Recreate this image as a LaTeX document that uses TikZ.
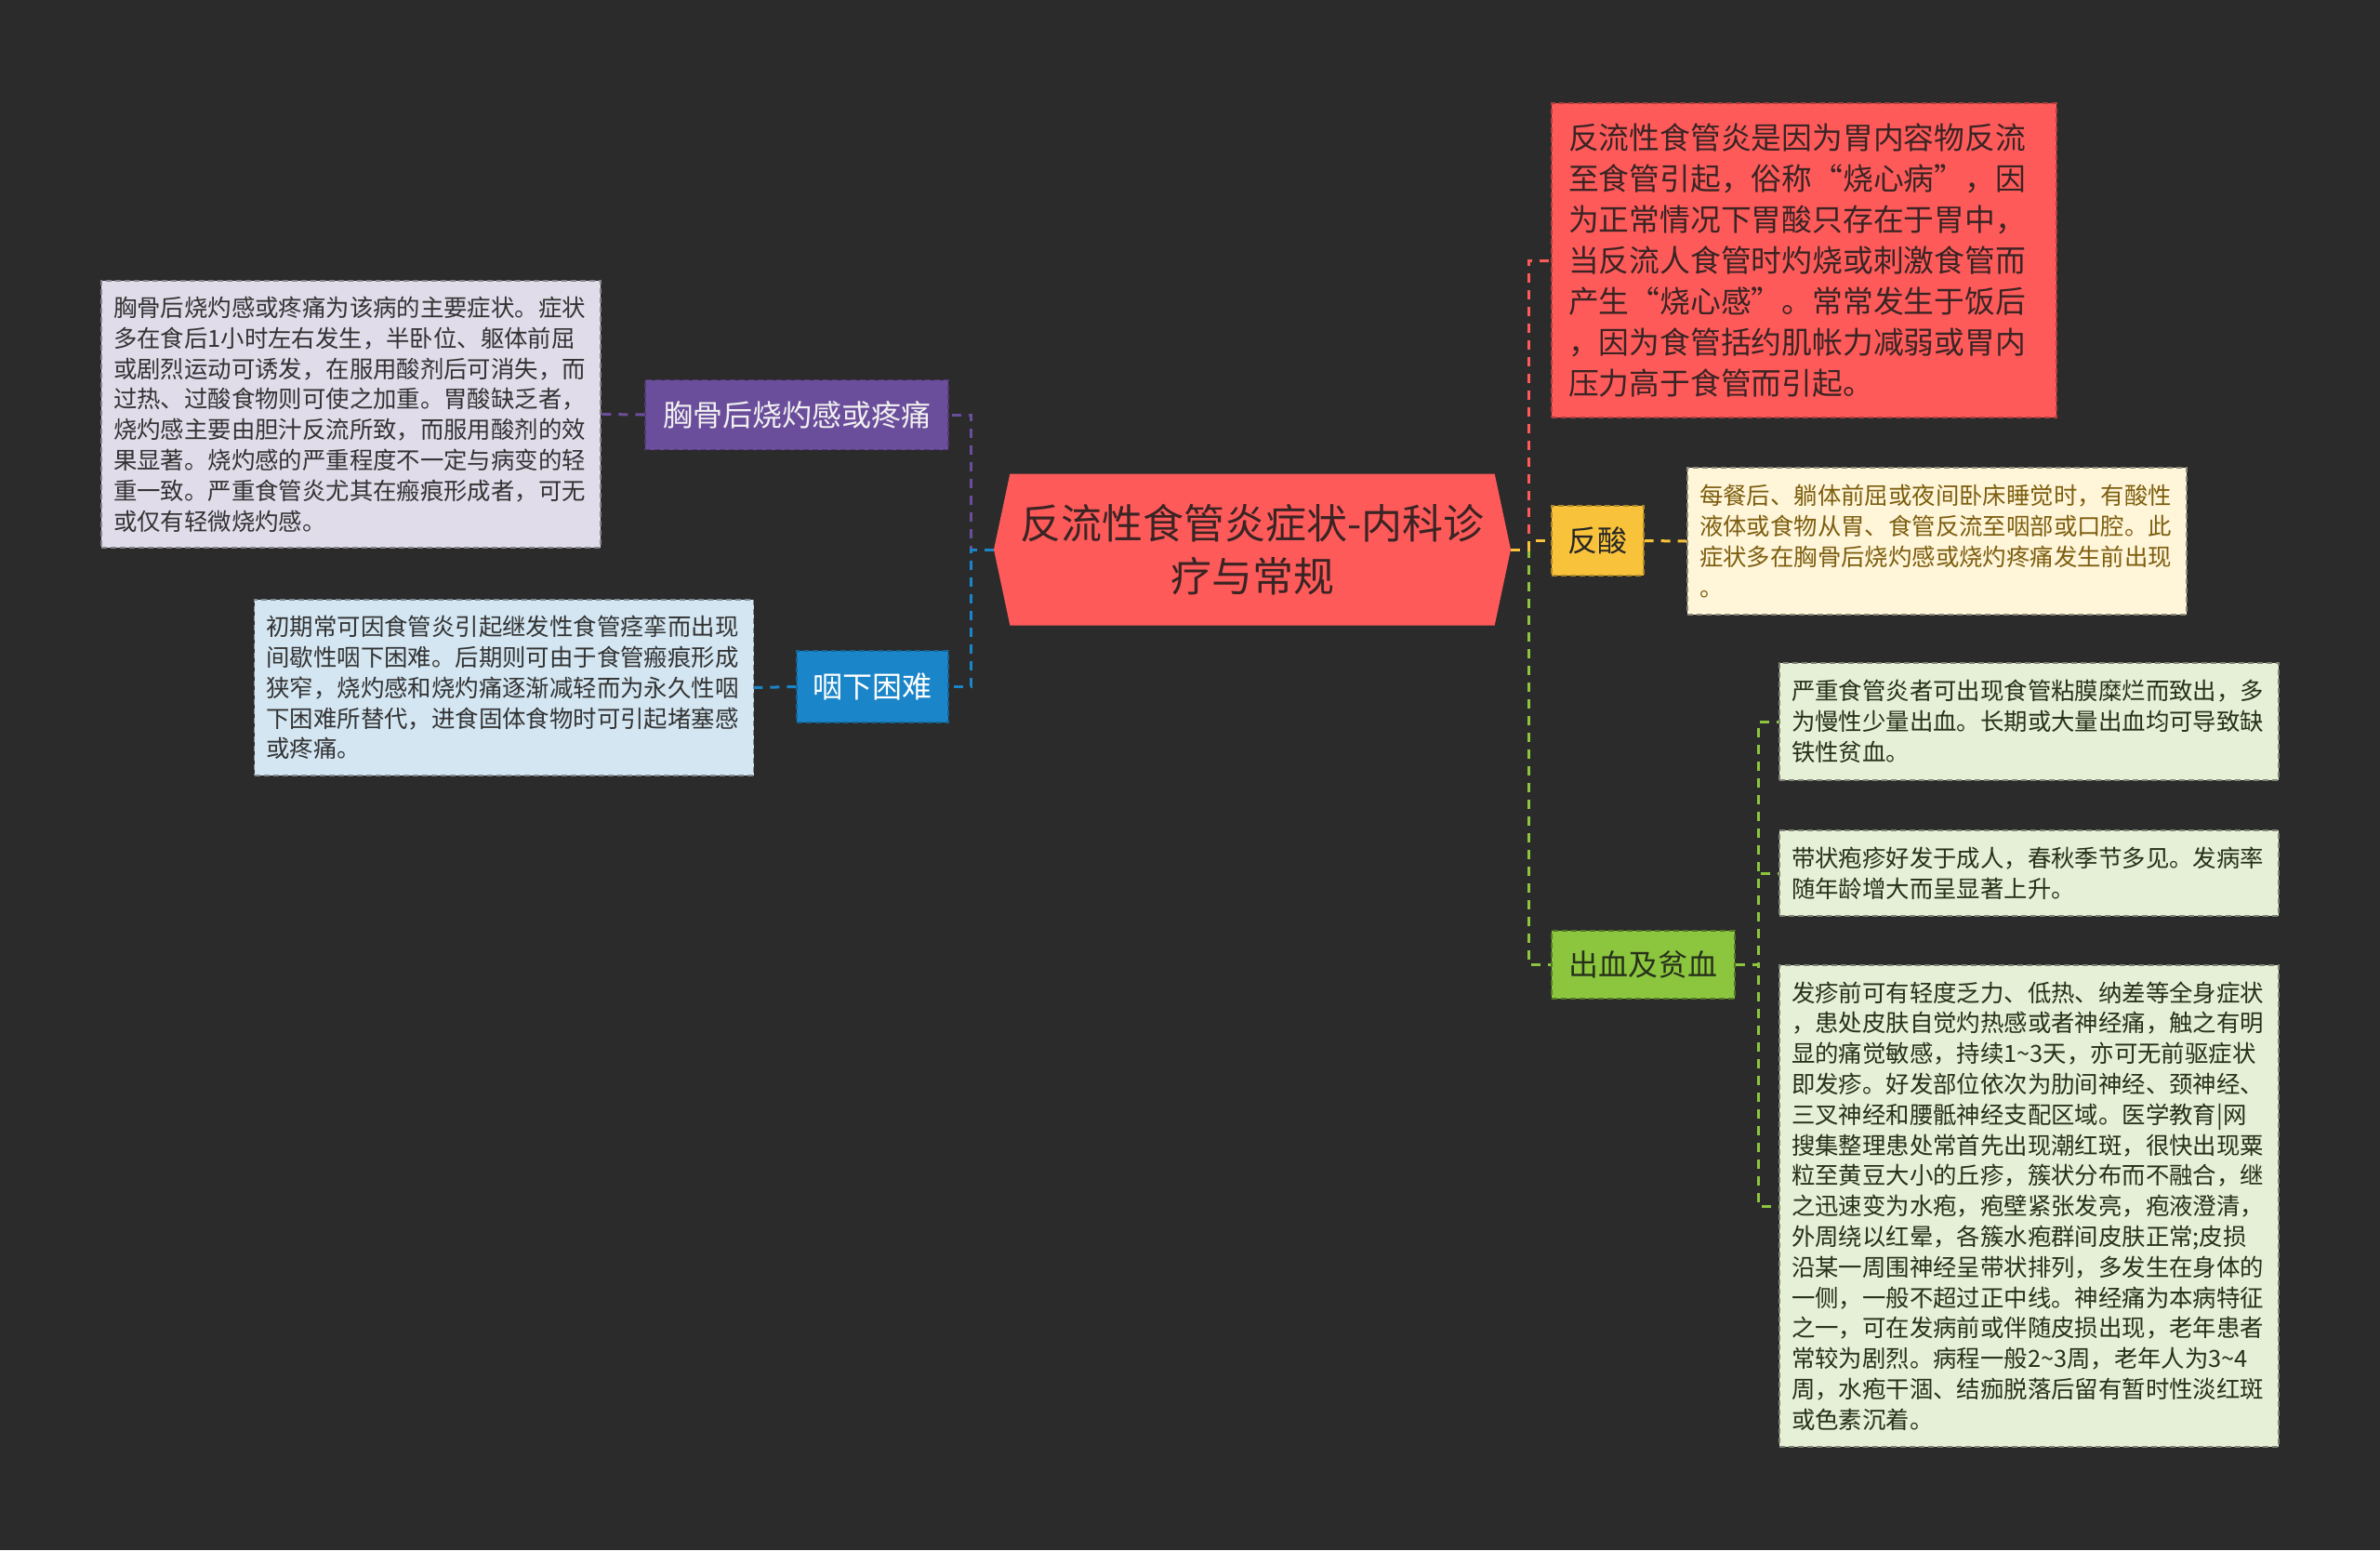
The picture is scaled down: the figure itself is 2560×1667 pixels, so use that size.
\documentclass[tikz,border=0pt]{standalone}
\usepackage{fontspec}
\setmainfont{Noto Sans CJK SC}
\usetikzlibrary{shapes.symbols}
\definecolor{canvas}{HTML}{2B2B2B}
\definecolor{rootred}{HTML}{FF5A5A}
\definecolor{rootink}{HTML}{3A2424}
\definecolor{chestC}{HTML}{6B4E9B}
\definecolor{chestbg}{HTML}{E0DCEA}
\definecolor{swallowC}{HTML}{1A85C8}
\definecolor{swallowbg}{HTML}{D3E6F2}
\definecolor{acidC}{HTML}{F8C23A}
\definecolor{acidbg}{HTML}{FFF6DA}
\definecolor{acidink}{HTML}{7D5E0F}
\definecolor{bleedC}{HTML}{8CC63F}
\definecolor{bleedbg}{HTML}{E6F0D6}
\definecolor{bleedink}{HTML}{26301A}
\newcommand{\NoteWidth}{255.5pt}
\tikzset{Topic/.style={
    inner sep=0pt,
    minimum height=37.5pt,
    draw, dash pattern=on 3pt off 2pt, line width=0.6pt,
    font=\fontsize{16pt}{20pt}\selectfont,
    align=center,
    }
}
\tikzset{Note/.style={
    inner xsep=6.5pt, inner ysep=0pt,
    text width=\NoteWidth,
    draw, dash pattern=on 3pt off 2pt, line width=0.6pt,
    font=\fontsize{12.7pt}{16.4pt}\selectfont,
    text=black!80,
    align=left,
    }
}
\begin{document}
\begin{tikzpicture}[x=0.5pt, y=-0.5pt,
    Link/.style={line width=1.5pt, dash pattern=on 5pt off 4pt},
    Root/.style={signal, signal to=west and east, signal pointer angle=156,
    inner sep=0pt, minimum width=278pt, minimum height=81.5pt,
    fill=rootred, text=rootink,
    font=\fontsize{22pt}{28.5pt}\selectfont, align=center},
]
\fill [canvas] (0,0) rectangle (2560,1667);

% centre
\node [Root] (core) at (1347,591) {反流性食管炎症状-内科诊\\疗与常规};

% left branches
\node [Topic, fill=chestC, draw=chestC!75!black, text=white!94!black, minimum width=163pt] (chest) at (857,446) {胸骨后烧灼感或疼痛};
\node [Note, fill=chestbg, draw=chestbg!60!black, minimum height=143.5pt] (chestnote) at (377.5,445.5)
  {胸骨后烧灼感或疼痛为该病的主要症状。症状\\多在食后1小时左右发生，半卧位、躯体前屈\\或剧烈运动可诱发，在服用酸剂后可消失，而\\过热、过酸食物则可使之加重。胃酸缺乏者，\\烧灼感主要由胆汁反流所致，而服用酸剂的效\\果显著。烧灼感的严重程度不一定与病变的轻\\重一致。严重食管炎尤其在瘢痕形成者，可无\\或仅有轻微烧灼感。};

\node [Topic, fill=swallowC, draw=swallowC!75!black, text=white, minimum width=81.5pt, minimum height=38.5pt] (swallow) at (938.5,738.5) {咽下困难};
\node [Note, fill=swallowbg, draw=swallowbg!60!black, minimum height=94.5pt] (swallownote) at (542,739.5)
  {初期常可因食管炎引起继发性食管痉挛而出现\\间歇性咽下困难。后期则可由于食管瘢痕形成\\狭窄，烧灼感和烧灼痛逐渐减轻而为永久性咽\\下困难所替代，进食固体食物时可引起堵塞感\\或疼痛。};

% right branches
\node [Note, fill=rootred, draw=rootred!70!black, text=rootink, inner xsep=9pt, text width=253.5pt,
  font=\fontsize{16.4pt}{22pt}\selectfont, minimum height=169pt] (defnote) at (1940.5,280)
  {反流性食管炎是因为胃内容物反流\\至食管引起，俗称“烧心病”，因\\为正常情况下胃酸只存在于胃中，\\当反流人食管时灼烧或刺激食管而\\产生“烧心感”。常常发生于饭后\\，因为食管括约肌帐力减弱或胃内\\压力高于食管而引起。};

\node [Topic, fill=acidC, draw=acidC!70!black, text=black!85, minimum width=49.5pt] (acid) at (1718.5,581.5) {反酸};
\node [Note, fill=acidbg, draw=acidbg!55!black, text=acidink, minimum height=79pt] (acidnote) at (2083.5,582)
  {每餐后、躺体前屈或夜间卧床睡觉时，有酸性\\液体或食物从胃、食管反流至咽部或口腔。此\\症状多在胸骨后烧灼感或烧灼疼痛发生前出现\\。};

\node [Topic, fill=bleedC, draw=bleedC!60!black, text=bleedink, minimum width=98.5pt, minimum height=36.5pt] (bleed) at (1767.5,1037.5) {出血及贫血};
\node [Note, fill=bleedbg, draw=bleedbg!55!black, text=bleedink, minimum height=63pt] (ulcer) at (2182.5,776)
  {严重食管炎者可出现食管粘膜糜烂而致出，多\\为慢性少量出血。长期或大量出血均可导致缺\\铁性贫血。};
\node [Note, fill=bleedbg, draw=bleedbg!55!black, text=bleedink, minimum height=46pt] (zoster) at (2182.5,939)
  {带状疱疹好发于成人，春秋季节多见。发病率\\随年龄增大而呈显著上升。};
\node [Note, fill=bleedbg, draw=bleedbg!55!black, text=bleedink, minimum height=259pt] (rash) at (2182.5,1297)
  {发疹前可有轻度乏力、低热、纳差等全身症状\\，患处皮肤自觉灼热感或者神经痛，触之有明\\显的痛觉敏感，持续1\textasciitilde 3天，亦可无前驱症状\\即发疹。好发部位依次为肋间神经、颈神经、\\三叉神经和腰骶神经支配区域。医学教育|网\\搜集整理患处常首先出现潮红斑，很快出现粟\\粒至黄豆大小的丘疹，簇状分布而不融合，继\\之迅速变为水疱，疱壁紧张发亮，疱液澄清，\\外周绕以红晕，各簇水疱群间皮肤正常;皮损\\沿某一周围神经呈带状排列，多发生在身体的\\一侧，一般不超过正中线。神经痛为本病特征\\之一，可在发病前或伴随皮损出现，老年患者\\常较为剧烈。病程一般2\textasciitilde 3周，老年人为3\textasciitilde 4\\周，水疱干涸、结痂脱落后留有暂时性淡红斑\\或色素沉着。};

% connectors
\draw [Link, chestC] (core.west) -- ++(-24,0) |- (chest.east);
\draw [Link, swallowC] (core.west) -- ++(-24,0) |- (swallow.east);
\draw [Link, chestC] (chest.west) -- (chestnote.east);
\draw [Link, swallowC] (swallow.west) -- (swallownote.east);

\draw [Link, rootred] (core.east) -- ++(19,0) |- (defnote.west);
\draw [Link, bleedC] (core.east) -- ++(19,0) |- (bleed.west);
\draw [Link, acidC] (core.east) -- ++(19,0) |- (acid.west);
\draw [Link, acidC] (acid.east) -- (acidnote.west);
\draw [Link, bleedC] (bleed.east) -- ++(25,0) |- (ulcer.west);
\draw [Link, bleedC] (bleed.east) -- ++(25,0) |- (zoster.west);
\draw [Link, bleedC] (bleed.east) -- ++(25,0) |- (rash.west);
\end{tikzpicture}
\end{document}
